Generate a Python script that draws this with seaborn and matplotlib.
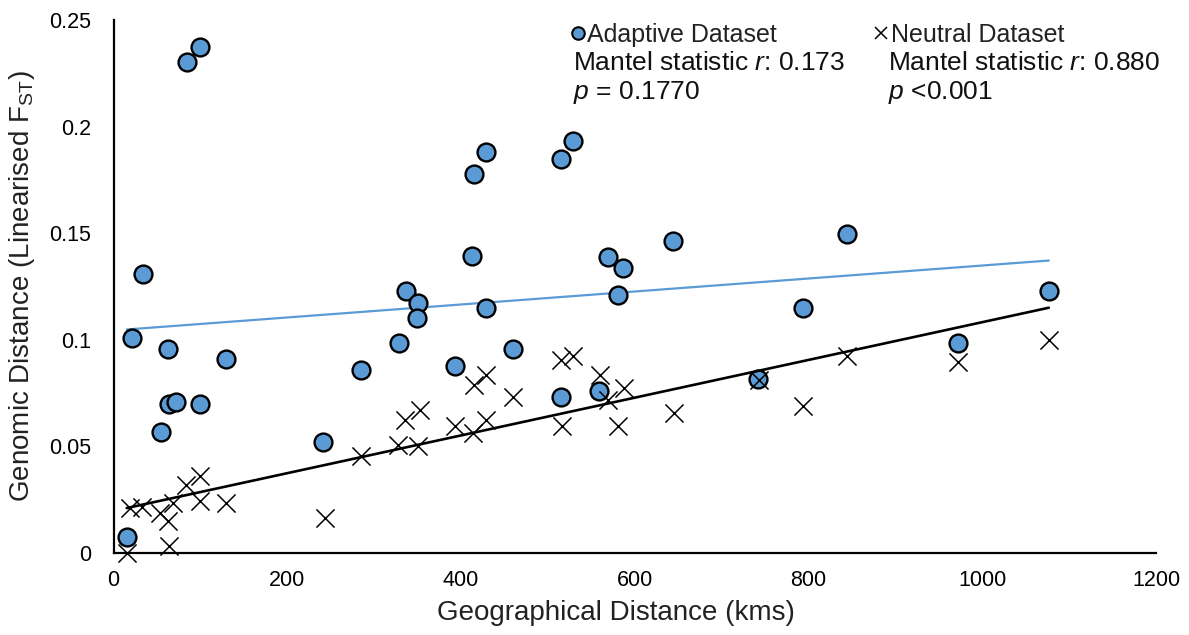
import matplotlib
matplotlib.use("Agg")
import matplotlib.pyplot as plt
import seaborn as sns
import numpy as np
import pandas as pd

# ---- data ----
adaptive_km = [15.2, 21, 34.3, 54.4, 63.1, 63.6, 72, 85, 99.7, 99.7, 129.6, 241, 285, 329,
               336.6, 351, 349, 393, 413, 415, 429, 429, 459.5, 514.7, 529, 514.7, 559, 569,
               587, 581, 643.8, 844, 793.5, 742, 972, 1076.6]
adaptive_fst = [0.0075, 0.1008, 0.131, 0.0567, 0.0958, 0.0698, 0.0708, 0.2305, 0.2375, 0.070,
                0.0912, 0.052, 0.0859, 0.0987, 0.123, 0.1172, 0.110, 0.0875, 0.1395, 0.178,
                0.188, 0.1149, 0.0958, 0.1849, 0.1933, 0.073, 0.0758, 0.1389, 0.1336, 0.1211,
                0.1463, 0.1497, 0.1151, 0.0817, 0.0987, 0.1227]
neutral_km = [15.2, 19, 32.5, 53.6, 63, 64, 69, 84, 99, 99.7, 130, 243, 284.8, 328, 335.8, 350,
              352.3, 393.4, 413.8, 414.5, 429, 429, 460, 515.5, 529, 516, 559.7, 569, 588, 581,
              645, 742.8, 794, 844.7, 972, 1076.6]
neutral_fst = [0.0, 0.0211, 0.0218, 0.0188, 0.0148, 0.0034, 0.0234, 0.032, 0.0362, 0.0242,
               0.0234, 0.0164, 0.0456, 0.0508, 0.0625, 0.0503, 0.0672, 0.0594, 0.0563, 0.0789,
               0.0625, 0.0836, 0.0734, 0.0906, 0.0922, 0.0594, 0.0836, 0.0719, 0.0774, 0.0594,
               0.0656, 0.0812, 0.069, 0.0925, 0.0895, 0.100]
x_ticks = [0, 200, 400, 600, 800, 1000, 1200]
y_ticks = [0, 0.05, 0.1, 0.15, 0.2, 0.25]
y_tick_labels = ["0", "0.05", "0.1", "0.15", "0.2", "0.25"]
adaptive_label = "Adaptive Dataset"
neutral_label = "Neutral Dataset"
adaptive_stats = ["Mantel statistic $r$: 0.173", "$p$ = 0.1770"]
neutral_stats = ["Mantel statistic $r$: 0.880", "$p$ <0.001"]

BLUE = "#5B9BD5"

sns.set_theme(style="white")
plt.rcParams["font.family"] = ["Liberation Sans", "DejaVu Sans"]
plt.rcParams["mathtext.fontset"] = "custom"
plt.rcParams["mathtext.rm"] = "Liberation Sans"
plt.rcParams["mathtext.it"] = "Liberation Sans:italic"

W, H = 1189, 635
fig = plt.figure(figsize=(W / 100, H / 100), dpi=100)
L, R, B, T = 113.5, 1156, 553, 20
ax = fig.add_axes([L / W, 1 - B / H, (R - L) / W, (B - T) / H])

adf = pd.DataFrame({"km": adaptive_km, "fst": adaptive_fst})
ndf = pd.DataFrame({"km": neutral_km, "fst": neutral_fst})

sns.regplot(data=adf, x="km", y="fst", scatter=False, ci=None, truncate=True, ax=ax,
            line_kws=dict(color=BLUE, lw=1.6, zorder=1))
sns.scatterplot(data=adf, x="km", y="fst", ax=ax, s=165, color=BLUE, edgecolor="black",
                linewidth=1.7, zorder=2, clip_on=False)
sns.scatterplot(data=ndf, x="km", y="fst", ax=ax, marker="x", s=170, color="black",
                linewidth=1.1, zorder=3, clip_on=False)
sns.regplot(data=ndf, x="km", y="fst", scatter=False, ci=None, truncate=True, ax=ax,
            line_kws=dict(color="black", lw=1.9, zorder=4))

ax.set_xlim(0, 1200)
ax.set_ylim(0, 0.25)
ax.set_xticks(x_ticks)
ax.set_xticklabels([str(t) for t in x_ticks])
ax.set_yticks(y_ticks)
ax.set_yticklabels(y_tick_labels)
sns.despine(ax=ax)
for s in ["left", "bottom"]:
    ax.spines[s].set_color("black")
    ax.spines[s].set_linewidth(1.6)
ax.tick_params(axis="both", direction="in", length=7, width=1.4, colors="black",
               labelsize=15.5)
ax.tick_params(axis="y", pad=16)
ax.tick_params(axis="x", pad=12)

ax.set_xlabel("Geographical Distance (kms)", fontsize=20, color="#222222")
ax.set_ylabel("Genomic Distance (Linearised F$_{\\mathrm{ST}}$)", fontsize=20, color="#222222")
ax.xaxis.set_label_coords((616 - L) / (R - L), -(613 - B) / (B - T), transform=ax.transAxes)
ax.xaxis.label.set_va("center")
ax.yaxis.set_label_coords(-(L - 22) / (R - L), 0.5)
ax.yaxis.label.set_va("center")

def fx(px):
    return px / W

def fy(py):
    return 1 - py / H

# custom legend / stats block
ax.plot([fx(578)], [fy(33)], marker="o", ms=9, mfc=BLUE, mec="black", mew=1.5,
        transform=fig.transFigure, clip_on=False, ls="none")
ax.plot([fx(881)], [fy(33)], marker="x", ms=9, mec="black", mew=1.1,
        transform=fig.transFigure, clip_on=False, ls="none")
fig.text(fx(587), fy(42), adaptive_label, fontsize=18, va="baseline", ha="left", color="#222222")
fig.text(fx(891), fy(42), neutral_label, fontsize=18, va="baseline", ha="left", color="#222222")
for i, (a, n) in enumerate(zip(adaptive_stats, neutral_stats)):
    yb = 70 + 29 * i
    fig.text(fx(573), fy(yb), a, fontsize=19, va="baseline", ha="left", color="#111111")
    fig.text(fx(888), fy(yb), n, fontsize=19, va="baseline", ha="left", color="#111111")

fig.savefig("out.png", dpi=100, facecolor="white")
